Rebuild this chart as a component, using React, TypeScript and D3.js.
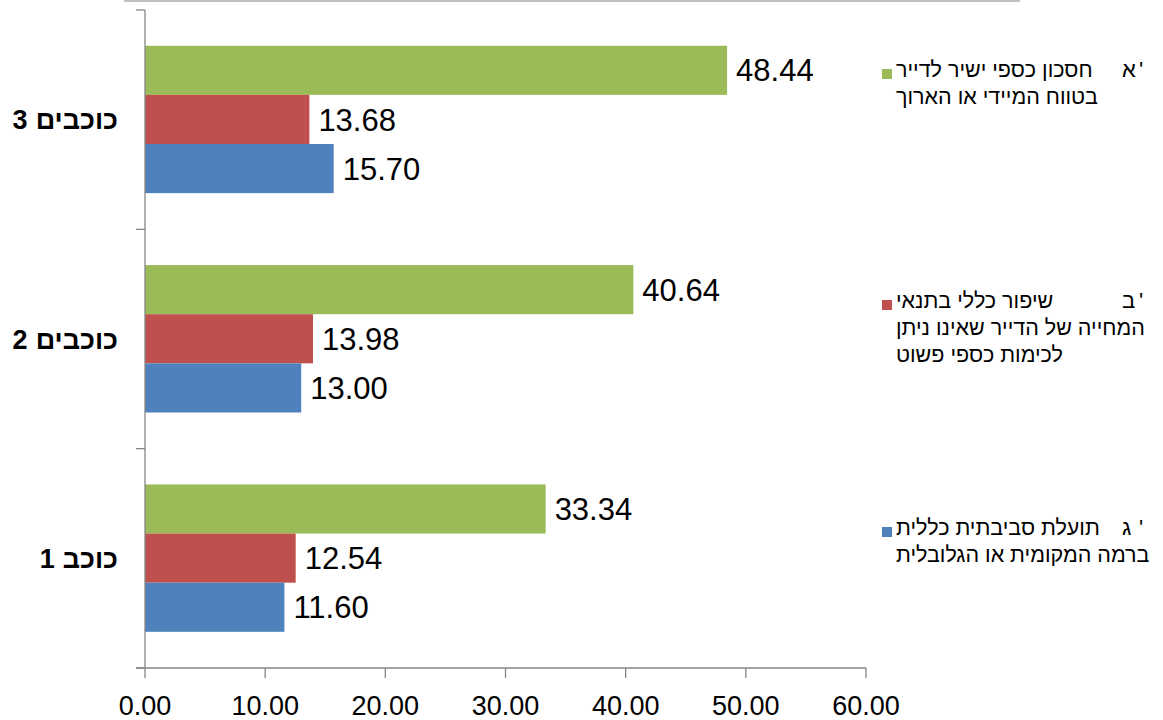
import React, { useLayoutEffect, useRef, useState } from "react";
import * as d3 from "d3";

const categories = ["3 כוכבים", "2 כוכבים", "1 כוכב"];
const seriesKeys = ["a", "b", "c"];
const seriesColors = ["#9BBB59", "#C0504D", "#4F81BD"];
const seriesA = [48.44, 40.64, 33.34];
const seriesB = [13.68, 13.98, 12.54];
const seriesC = [15.7, 13.0, 11.6];
const xTicks = [0, 10, 20, 30, 40, 50, 60];
const legendLetters = ["א", "ב", "ג"];
const legendLines = [
  ["חסכון כספי ישיר לדייר", "בטווח המיידי או הארוך"],
  ["שיפור כללי בתנאי", "המחייה של הדייר שאינו ניתן", "לכימות כספי פשוט"],
  ["תועלת סביבתית כללית", "ברמה המקומית או הגלובלית"],
];

const W = 1163;
const H = 720;
const left = 145;
const right = 866;
const top = 10;
const bottom = 668;

function CatLabel({ label, xEnd, yMid }: { label: string; xEnd: number; yMid: number }) {
  const sp = label.indexOf(" ");
  const num = label.slice(0, sp);
  const word = label.slice(sp + 1);
  const ref = useRef<SVGTextElement>(null);
  const [w, setW] = useState(80);
  useLayoutEffect(() => {
    if (ref.current) {
      const bb = ref.current.getBBox();
      if (bb.width > 0) setW(bb.width);
    }
  }, [label]);
  const common = { fontSize: 27, fontWeight: "bold", dy: "0.36em", fill: "#000" } as any;
  return (
    <g>
      <text ref={ref} x={xEnd - w} y={yMid} textAnchor="start" direction="ltr" {...common}>
        {word}
      </text>
      <text x={xEnd - w - 8} y={yMid} textAnchor="end" direction="ltr" {...common}>
        {num}
      </text>
    </g>
  );
}

export default function App() {
  const x = d3.scaleLinear().domain([0, 60]).range([left, right]);
  const y = d3.scaleBand<string>().domain(categories).range([top, bottom]).padding(0);
  const bw = y.bandwidth();
  const sub = d3
    .scaleBand<string>()
    .domain(seriesKeys)
    .range([bw * 0.163, bw * 0.835])
    .padding(0);
  const values = [seriesA, seriesB, seriesC];
  const boundaries = [top, ...categories.map((c) => (y(c) as number) + bw)];
  const legendY = [77, 308, 535];
  const font = "'Liberation Sans', Arial, sans-serif";

  return (
    <svg
      width={W}
      height={H}
      style={{ position: "absolute", left: 0, top: 0, background: "#fff", direction: "ltr" }}
      fontFamily={font}
    >
      <line x1={124} x2={1020} y1={1} y2={1} stroke="#bfbfbf" strokeWidth={2} />
      {categories.map((c, ci) =>
        seriesKeys.map((k, si) => {
          const v = values[si][ci];
          const by = (y(c) as number) + (sub(k) as number);
          const bh = sub.bandwidth();
          return (
            <g key={c + k}>
              <rect x={x(0)} y={by} width={x(v) - x(0)} height={bh} fill={seriesColors[si]} />
              <text x={x(v) + 9} y={by + bh / 2} dy="0.36em" fontSize={31} fill="#000">
                {v.toFixed(2)}
              </text>
            </g>
          );
        })
      )}
      <line x1={left} x2={left} y1={top} y2={bottom} stroke="#868686" strokeWidth={1.3} />
      {boundaries.map((b, i) => (
        <line key={i} x1={left - 9} x2={left} y1={b} y2={b} stroke="#868686" strokeWidth={1.3} />
      ))}
      {categories.map((c) => (
        <CatLabel key={c} label={c} xEnd={118} yMid={(y(c) as number) + bw / 2} />
      ))}
      <line x1={left - 9} x2={right} y1={bottom} y2={bottom} stroke="#868686" strokeWidth={1.3} />
      {xTicks.map((t) => (
        <g key={t}>
          <line x1={x(t)} x2={x(t)} y1={bottom} y2={bottom + 10} stroke="#868686" strokeWidth={1.3} />
          <text x={x(t)} y={bottom + 47} textAnchor="middle" fontSize={27} fill="#000">
            {t.toFixed(2)}
          </text>
        </g>
      ))}
      {legendLines.map((lines, i) => (
        <g key={i}>
          <rect x={882} y={legendY[i] - 8} width={10} height={10} fill={seriesColors[i]} />
          <text x={1122} y={legendY[i]} textAnchor="start" direction="ltr" fontSize={22} fill="#000">
            {legendLetters[i]}
          </text>
          <text x={1139} y={legendY[i]} textAnchor="start" direction="ltr" fontSize={22} fill="#000">
            {"'"}
          </text>
          {lines.map((ln, j) => (
            <text key={j} x={896} y={legendY[i] + j * 27} textAnchor="start" fontSize={21.5} fill="#000">
              {ln}
            </text>
          ))}
        </g>
      ))}
    </svg>
  );
}
